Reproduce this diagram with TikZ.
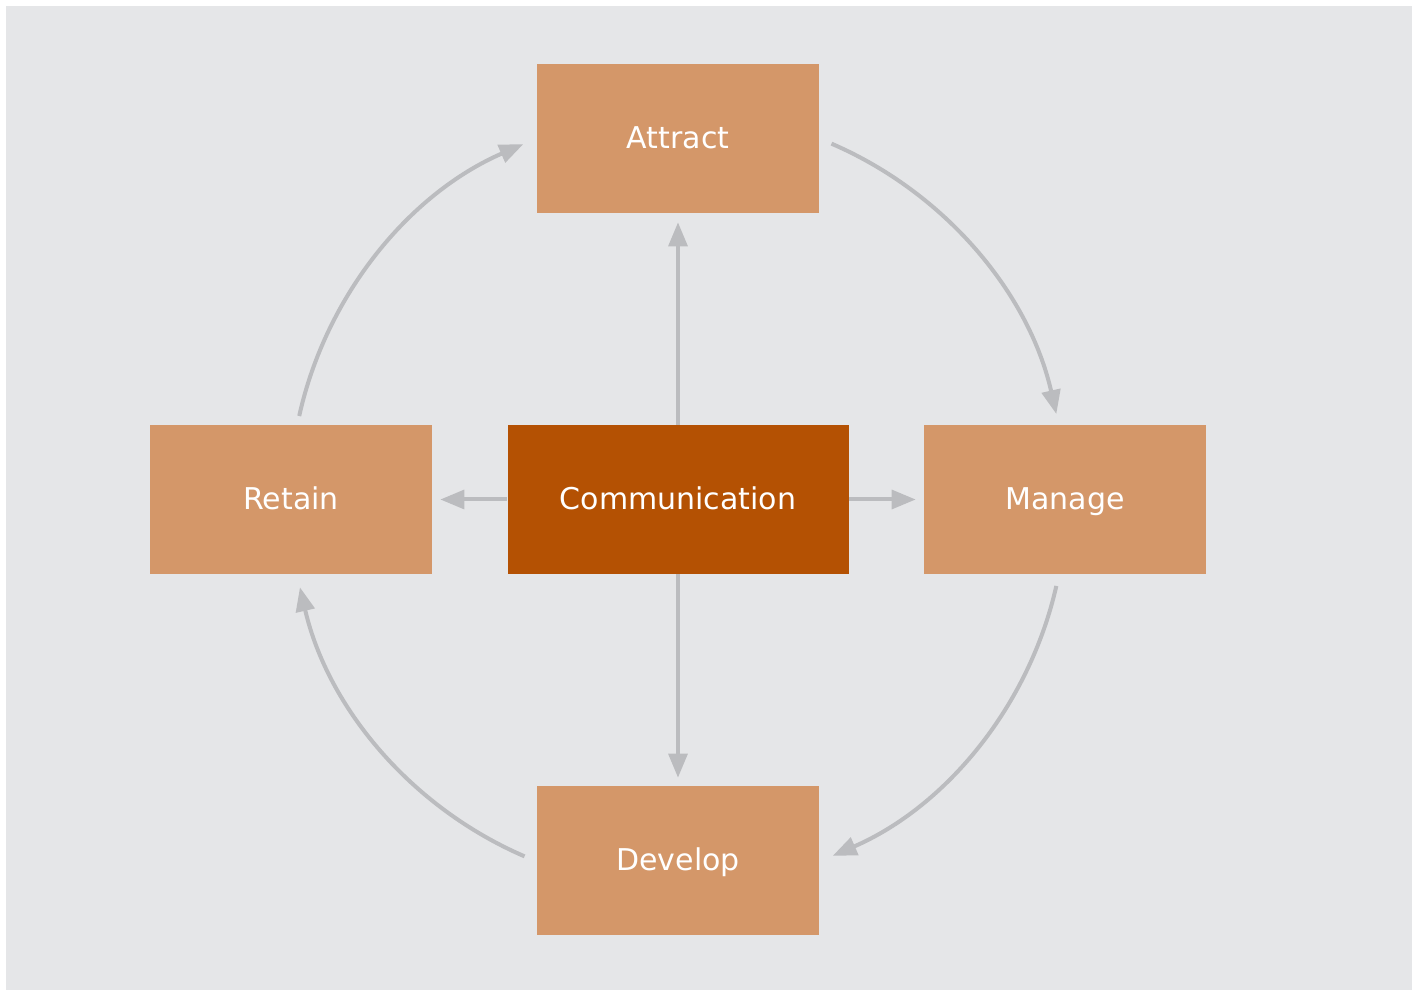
\documentclass[tikz,border=0pt]{standalone}
\usepackage{fontspec}
\setmainfont{DejaVu Sans}
\usetikzlibrary{arrows.meta}
\definecolor{boxorange}{RGB}{212,151,105}
\definecolor{boxdark}{RGB}{180,81,3}
\definecolor{linkgray}{RGB}{187,188,191}
\definecolor{bggray}{RGB}{229,230,232}
\tikzset{
  stage/.style={fill=boxorange,text=white,minimum width=211.5pt,minimum height=111.75pt,inner sep=0pt,
    text height=16pt,text depth=1pt,font=\fontsize{22.5}{27}\selectfont},
  hub/.style={stage,fill=boxdark,minimum width=255.75pt},
  link/.style={draw=linkgray,line width=3pt,-{Triangle[width=14pt,length=18pt]}}
}
\begin{document}
\begin{tikzpicture}[x=0.75pt,y=0.75pt]
\useasboundingbox (0,0) rectangle (1417,990);
\fill[bggray] (6,0) rectangle (1412,984);
% boxes
\node[hub] (comm) at (678,490.5) {Communication};
\node[stage] (attract) at (678,851.5) {Attract};
\node[stage] (retain) at (291,490.5) {Retain};
\node[stage] (manage) at (1065,490.5) {Manage};
\node[stage] (develop) at (678,129.5) {Develop};
\coordinate (o) at (678,490);
% straight links
\draw[link,shorten >=6.75pt] (comm) -- (attract);
\draw[link,shorten >=6pt] (comm) -- (retain);
\draw[link,shorten >=6pt] (comm) -- (manage);
\draw[link,shorten >=6pt] (comm) -- (develop);
% cycle
\foreach \a/\b in {66.7/12.8, -12.8/-66.5, 246.7/193, 167.5/113.5}
  \draw[link] (o) ++(\a:388) arc[start angle=\a, end angle=\b, radius=388];
\end{tikzpicture}
\end{document}
